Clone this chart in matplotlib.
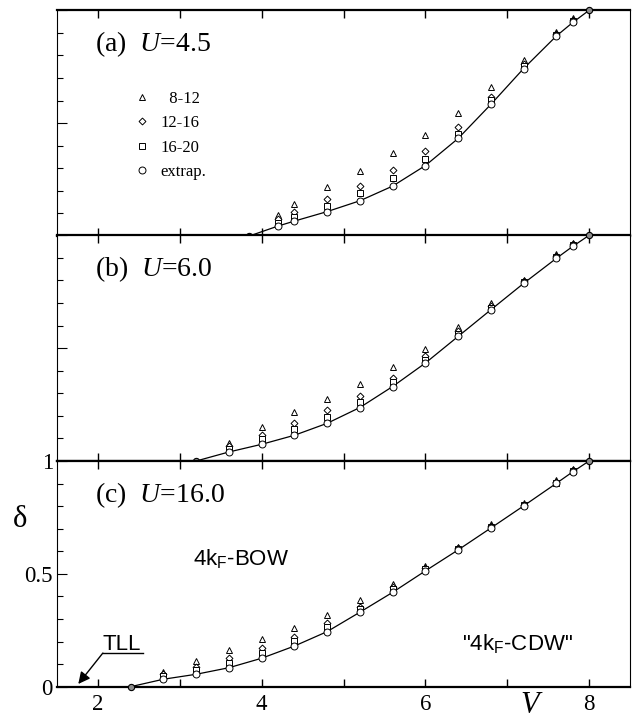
import matplotlib
matplotlib.use("Agg")
import matplotlib.pyplot as plt
from matplotlib.ticker import MultipleLocator

plt.rcParams["font.family"] = "Liberation Serif"
plt.rcParams["mathtext.fontset"] = "custom"
plt.rcParams["mathtext.rm"] = "Liberation Sans"
plt.rcParams["mathtext.it"] = "Liberation Serif:italic"

# ── panel (a)  U=4.5 ──
V_a   = [4.2, 4.4, 4.8, 5.2, 5.6, 6.0, 6.4, 6.8, 7.2, 7.6, 7.8]
tri_a = [0.093, 0.142, 0.215, 0.289, 0.366, 0.448, 0.546, 0.658, 0.782, 0.906, 0.964]
dia_a = [0.074, 0.105, 0.162, 0.223, 0.294, 0.377, 0.484, 0.616, 0.764, 0.897, 0.956]
sq_a  = [0.059, 0.085, 0.133, 0.189, 0.255, 0.342, 0.454, 0.602, 0.755, 0.892, 0.951]
ext_a = [0.044, 0.066, 0.108, 0.156, 0.221, 0.312, 0.432, 0.583, 0.742, 0.886, 0.946]
Vc_a  = 3.85

# ── panel (b)  U=6.0 ──
V_b   = [3.6, 4.0, 4.4, 4.8, 5.2, 5.6, 6.0, 6.4, 6.8, 7.2, 7.6, 7.8]
tri_b = [0.081, 0.152, 0.215, 0.276, 0.342, 0.416, 0.498, 0.592, 0.698, 0.804, 0.916, 0.967]
dia_b = [0.066, 0.116, 0.167, 0.224, 0.289, 0.368, 0.464, 0.575, 0.686, 0.797, 0.908, 0.960]
sq_b  = [0.053, 0.096, 0.141, 0.194, 0.260, 0.348, 0.449, 0.564, 0.679, 0.792, 0.904, 0.956]
ext_b = [0.040, 0.074, 0.114, 0.167, 0.237, 0.330, 0.434, 0.552, 0.670, 0.787, 0.898, 0.951]
Vc_b  = 3.2

# ── panel (c)  U=16.0 ──
V_c   = [2.8, 3.2, 3.6, 4.0, 4.4, 4.8, 5.2, 5.6, 6.0, 6.4, 6.8, 7.2, 7.6, 7.8]
tri_c = [0.066, 0.115, 0.163, 0.210, 0.261, 0.318, 0.384, 0.454, 0.536, 0.620, 0.720, 0.813, 0.914, 0.964]
dia_c = [0.057, 0.089, 0.126, 0.170, 0.222, 0.281, 0.354, 0.440, 0.524, 0.613, 0.712, 0.807, 0.907, 0.958]
sq_c  = [0.047, 0.074, 0.104, 0.148, 0.203, 0.266, 0.343, 0.432, 0.520, 0.610, 0.707, 0.804, 0.904, 0.955]
ext_c = [0.033, 0.055, 0.084, 0.126, 0.180, 0.244, 0.330, 0.418, 0.513, 0.606, 0.703, 0.801, 0.901, 0.952]
Vc_c  = 2.4

V_end = 8.0
panels = [
    ("a", "4.5", V_a, tri_a, dia_a, sq_a, ext_a, Vc_a),
    ("b", "6.0", V_b, tri_b, dia_b, sq_b, ext_b, Vc_b),
    ("c", "16.0", V_c, tri_c, dia_c, sq_c, ext_c, Vc_c),
]
legend_labels = ["  8-12", "12-16", "16-20", "extrap."]

fig = plt.figure(figsize=(6.34, 7.21), dpi=100)
left, width = 0.0899, 0.9038
bottoms = [0.6727, 0.3606, 0.0476]
h = 0.3130

for i, (tag, U, V, tri, dia, sq, ext, V0) in enumerate(panels):
    ax = fig.add_axes([left, bottoms[i], width, h])
    mk = dict(ls="none", mfc="white", mec="k", mew=0.7, clip_on=False)
    ax.plot([V0] + V + [V_end], [0] + ext + [1], color="k", lw=0.9, zorder=1, clip_on=False)
    ax.plot(V, tri, marker="^", ms=4.5, zorder=2, label=legend_labels[0], **mk)
    ax.plot(V, dia, marker="D", ms=3.5, zorder=3, label=legend_labels[1], **mk)
    ax.plot(V, sq, marker="s", ms=4, zorder=4, label=legend_labels[2], **mk)
    ax.plot(V, ext, marker="o", ms=5, zorder=5, label=legend_labels[3], **mk)
    ax.plot([V0, V_end], [0, 1], ls="none", marker="o", ms=4.5, mfc="0.55",
            mec="k", mew=0.8, zorder=6, clip_on=False)

    ax.set_xlim(1.5, 8.5)
    ax.set_ylim(0, 1)
    ax.xaxis.set_major_locator(MultipleLocator(1))
    ax.yaxis.set_major_locator(MultipleLocator(0.5))
    ax.yaxis.set_minor_locator(MultipleLocator(0.1))
    ax.tick_params(axis="x", which="major", direction="in", top=True, bottom=True,
                   length=6, width=1, labelsize=16.5, pad=5)
    ax.tick_params(axis="y", which="major", direction="in", length=7, width=0.8,
                   labelsize=16.5, pad=3)
    ax.tick_params(axis="y", which="minor", direction="in", length=4, width=0.8)
    for s in ["top", "bottom"]:
        ax.spines[s].set_linewidth(1.6)
    for s in ["left", "right"]:
        ax.spines[s].set_linewidth(0.8)

    ax.text(0.066, 0.85, f"({tag})  $\\mathit{{U}}$={U}", transform=ax.transAxes,
            fontsize=20, va="center", ha="left")

    if tag == "c":
        ax.set_xticks([2, 3, 4, 5, 6, 7, 8])
        ax.set_xticklabels(["2", "", "4", "", "6", "", "8"])
        ax.set_yticks([0, 0.5, 1])
        ax.set_yticklabels(["0", "0.5", "1"])
    else:
        ax.set_xticklabels([])
        ax.set_yticklabels([])

    if tag == "a":
        ax.legend(loc="upper left", bbox_to_anchor=(0.12, 0.68), frameon=False,
                  fontsize=12, handlelength=1.0, handletextpad=0.6,
                  labelspacing=0.5, borderpad=0)

    if tag == "c":
        ax.text(3.16, 0.57, "4k$_\\mathrm{F}$-BOW", family="Liberation Sans",
                fontsize=16, va="center", ha="left")
        ax.text(6.45, 0.19, "\"4k$_\\mathrm{F}$-CDW\"", family="Liberation Sans",
                fontsize=16, va="center", ha="left")
        ax.text(2.29, 0.185, "TLL", family="Liberation Sans", fontsize=16,
                va="center", ha="center")
        ax.plot([2.55, 2.06], [0.149, 0.149], color="k", lw=1, clip_on=False)
        ax.annotate("", xy=(1.76, 0.012), xytext=(2.06, 0.149),
                    arrowprops=dict(arrowstyle="-|>,head_length=0.7,head_width=0.35",
                                    color="k", lw=1, shrinkA=0, shrinkB=0))
        ax.text(7.27, -0.085, "V", fontsize=22, style="italic", ha="center",
                va="center", clip_on=False)
        ax.text(-0.065, 0.74, "δ", fontsize=22, ha="center", va="center",
                transform=ax.transAxes)

fig.savefig("out.png", dpi=100)
